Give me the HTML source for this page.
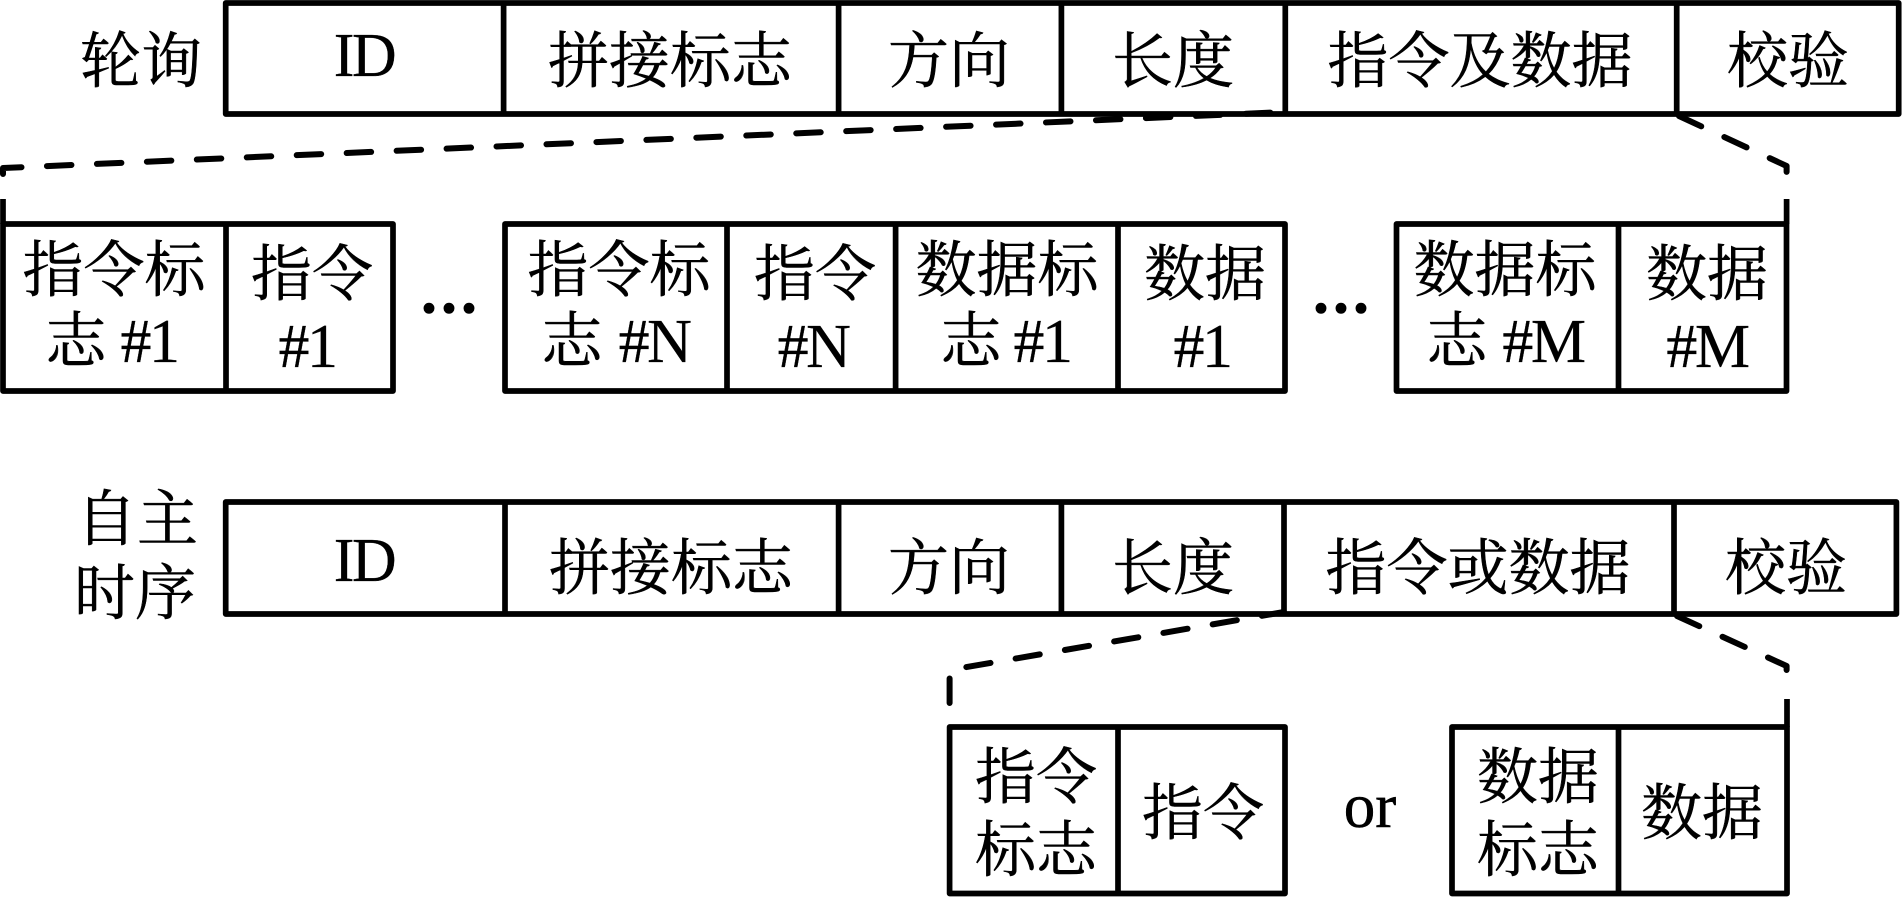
<!DOCTYPE html>
<html lang="zh">
<head>
<meta charset="utf-8">
<title>Frame diagram</title>
<style>
html,body{margin:0;padding:0;background:#fff;width:1902px;height:897px;overflow:hidden}
svg{display:block}
.c{font-family:"Liberation Serif","Noto Serif CJK SC",serif;font-size:61px;fill:#000;text-anchor:middle;stroke:#000;stroke-width:0.5}
.l{font-size:62px;letter-spacing:-2.5px;stroke-width:0.3}
.p{font-size:80px;stroke-width:1.5}
.s{stroke:#000;stroke-width:5.7;fill:none;stroke-linejoin:round}
.d{stroke:#000;stroke-width:6;fill:none;stroke-dasharray:24.5 25.5;stroke-linecap:round;stroke-linejoin:round}
</style>
</head>
<body>
<svg width="1902" height="897" viewBox="0 0 1902 897" xmlns="http://www.w3.org/2000/svg">
<rect width="1902" height="897" fill="#fff"/>

<!-- top bar -->
<rect class="s" x="225.7" y="3" width="1673" height="111"/>
<path class="s" d="M503.6 3V114M838.6 3V114M1061.4 3V114M1285.3 3V114M1676.7 3V114"/>

<!-- second row -->
<rect class="s" x="3" y="224" width="390" height="167"/>
<path class="s" d="M226 224V391"/>
<rect class="s" x="505" y="224" width="780" height="167"/>
<path class="s" d="M727 224V391M895.6 224V391M1118 224V391"/>
<rect class="s" x="1396.5" y="224" width="390" height="167"/>
<path class="s" d="M1618.5 224V391"/>
<path class="s" d="M3 199V224M1786.6 199V224"/>
<path class="d" d="M3 174V168L1285 112"/>
<path class="d" d="M1679 116L1786.6 166V176"/>

<!-- second bar -->
<rect class="s" x="225.7" y="502" width="1670.7" height="112"/>
<path class="s" d="M505 502V614M838.6 502V614M1061.4 502V614M1284 502V614M1674 502V614"/>

<!-- third row -->
<rect class="s" x="949.6" y="727" width="335.4" height="166.5"/>
<path class="s" d="M1118 727V893.5"/>
<rect class="s" x="1452" y="727" width="335" height="166.5"/>
<path class="s" d="M1618.5 727V893.5"/>
<path class="s" d="M1787 699V727"/>
<path class="d" d="M949.6 703V670L1284 612"/>
<path class="d" d="M1677 616L1786.6 666V677"/>

<!-- row 1 labels -->
<text class="c" x="141" y="82">轮询</text>
<text class="c l" x="364" y="76">ID</text>
<text class="c" x="670" y="82">拼接标志</text>
<text class="c" x="949" y="82">方向</text>
<text class="c" x="1173" y="82">长度</text>
<text class="c" x="1480" y="82">指令及数据</text>
<text class="c" x="1788" y="82">校验</text>

<!-- row 2 labels -->
<text class="c" x="114" y="291">指令标</text>
<text class="c" x="76" y="362">志</text><text class="c l" x="149" y="362">#1</text>
<text class="c" x="312" y="295">指令</text>
<text class="c l" x="307" y="367">#1</text>
<text class="c p" x="449" y="312">...</text>
<text class="c" x="619" y="291">指令标</text>
<text class="c" x="572" y="362">志</text><text class="c l" x="654" y="362">#N</text>
<text class="c" x="815" y="295">指令</text>
<text class="c l" x="813" y="367">#N</text>
<text class="c" x="1007" y="291">数据标</text>
<text class="c" x="971" y="362">志</text><text class="c l" x="1042" y="362">#1</text>
<text class="c" x="1205" y="295">数据</text>
<text class="c l" x="1202" y="367">#1</text>
<text class="c p" x="1341" y="312">...</text>
<text class="c" x="1505" y="291">数据标</text>
<text class="c" x="1457" y="362">志</text><text class="c l" x="1543" y="362">#M</text>
<text class="c" x="1707" y="295">数据</text>
<text class="c l" x="1707" y="367">#M</text>

<!-- row 3 labels -->
<text class="c" x="137" y="540">自主</text>
<text class="c" x="135" y="614">时序</text>
<text class="c l" x="364" y="581">ID</text>
<text class="c" x="671" y="589">拼接标志</text>
<text class="c" x="949" y="589">方向</text>
<text class="c" x="1173" y="589">长度</text>
<text class="c" x="1478" y="589">指令或数据</text>
<text class="c" x="1786" y="589">校验</text>

<!-- row 4 labels -->
<text class="c" x="1036" y="798">指令</text>
<text class="c" x="1036" y="871">标志</text>
<text class="c" x="1203" y="834">指令</text>
<text class="c" style="font-size:63px" x="1370" y="827">or</text>
<text class="c" x="1538" y="798">数据</text>
<text class="c" x="1538" y="871">标志</text>
<text class="c" x="1702" y="834">数据</text>
</svg>
</body>
</html>
